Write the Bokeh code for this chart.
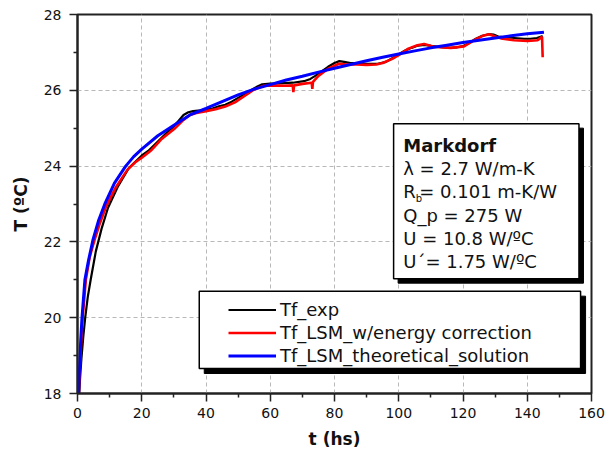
from bokeh.plotting import figure
from bokeh.models import (Range1d, FixedTicker, BoxAnnotation, Label, Legend, LegendItem,
                          ColumnDataSource, CDSView, IndexFilter)
from bokeh.embed import file_html
from bokeh.resources import INLINE

# ---------------- data ----------------
t_exp = [0.5, 0.8, 1.2, 1.8, 2.4, 3.2, 4.1, 5.7, 7.5, 9.5, 12.5, 16, 20, 22, 25, 28, 30, 31.5, 33,
         34.5, 36, 38.3, 40, 42, 44, 46, 48, 50, 52, 54, 56, 57.5, 60, 62, 64.3, 67, 70.5, 72.5, 74,
         76, 78, 80, 81.5, 83, 85, 87, 90, 93.5, 96, 98.5, 100, 102, 104, 106, 108, 110, 113, 116,
         118, 120, 122, 124, 126, 128, 129.5, 131, 133, 136, 139, 141, 143, 144.8]
T_exp = [17.95, 18.4, 18.9, 19.5, 20.0, 20.55, 21.0, 21.75, 22.35, 22.9, 23.45, 23.95, 24.28, 24.4,
         24.65, 24.9, 25.05, 25.2, 25.35, 25.42, 25.45, 25.47, 25.5, 25.52, 25.58, 25.62, 25.7, 25.8,
         25.9, 26.0, 26.1, 26.16, 26.18, 26.18, 26.19, 26.2, 26.24, 26.3, 26.38, 26.5, 26.62, 26.72,
         26.77, 26.75, 26.72, 26.72, 26.7, 26.7, 26.75, 26.87, 26.95, 27.05, 27.12, 27.18, 27.2,
         27.17, 27.14, 27.12, 27.13, 27.17, 27.25, 27.36, 27.44, 27.48, 27.47, 27.42, 27.4, 27.38,
         27.36, 27.36, 27.38, 27.43]

t_lsm = [0.4, 0.7, 1.1, 1.6, 2.6, 3.8, 5.3, 7.0, 9.0, 12, 15.5, 18, 20, 23, 26, 30, 33, 35, 37, 40,
         43, 46, 49, 52, 55, 58, 61, 64.3, 67.0, 67.2, 67.4, 70, 72.9, 73.1, 73.3, 75, 78, 81.4, 84,
         87, 90, 93, 95, 98, 100.6, 103, 105.8, 107.9, 111, 116.2, 120.3, 123.4, 126, 128.1, 130,
         131.8, 135.9, 140.1, 143.2, 144.6, 144.8]
T_lsm = [17.95, 18.6, 19.3, 20.0, 21.0, 21.6, 22.05, 22.5, 22.95, 23.45, 23.9, 24.1, 24.22, 24.42,
         24.7, 24.97, 25.22, 25.35, 25.4, 25.45, 25.5, 25.57, 25.68, 25.85, 26.02, 26.12, 26.13,
         26.12, 26.13, 25.95, 26.13, 26.17, 26.2, 26.04, 26.22, 26.38, 26.57, 26.7, 26.68, 26.68,
         26.67, 26.68, 26.72, 26.83, 26.96, 27.1, 27.19, 27.22, 27.15, 27.12, 27.16, 27.32, 27.43,
         27.48, 27.42, 27.37, 27.32, 27.3, 27.32, 27.41, 26.87]

t_theo = [0.35, 0.6, 1.0, 1.4, 2.3, 3.4, 4.8, 6.5, 8.5, 11.5, 15, 17.5, 20, 25, 30, 35, 40, 45, 50,
          55, 60, 65, 70, 75, 80, 85, 90, 95, 100, 105, 110, 115, 120, 125, 130, 135, 140, 145.2]
T_theo = [18.0, 18.6, 19.4, 20.0, 21.0, 21.5, 22.05, 22.55, 23.0, 23.55, 24.0, 24.25, 24.45, 24.8,
          25.08, 25.35, 25.52, 25.7, 25.88, 26.03, 26.15, 26.27, 26.37, 26.48, 26.58, 26.68, 26.78,
          26.87, 26.96, 27.04, 27.12, 27.19, 27.26, 27.32, 27.38, 27.44, 27.49, 27.53]

series_names = ["Tf_exp", "Tf_LSM_w/energy correction", "Tf_LSM_theoretical_solution"]

x_ticks = [0, 20, 40, 60, 80, 100, 120, 140, 160]
x_minor = [10, 30, 50, 70, 90, 110, 130, 150]
y_ticks = [18, 20, 22, 24, 26, 28]
y_minor = [19, 21, 23, 25, 27]

info_title = "Markdorf"
info_lines = ["λ = 2.7 W/m-K", None, "Q_p = 275 W", "U = 10.8 W/ºC", "U´= 1.75 W/ºC"]
rb_main, rb_sub, rb_rest = "R", "b", "= 0.101 m-K/W"

FONT = "DejaVu Sans"

# ---------------- figure ----------------
p = figure(frame_width=514, frame_height=379, output_backend="svg", toolbar_location=None,
           x_range=Range1d(0, 160), y_range=Range1d(18, 28),
           min_border_left=77, min_border_right=17, min_border_top=14, min_border_bottom=59)
p.background_fill_color = "white"
p.border_fill_color = "white"
p.outline_line_color = "#222222"
p.outline_line_width = 2

p.xaxis.ticker = FixedTicker(ticks=x_ticks, minor_ticks=x_minor)
p.yaxis.ticker = FixedTicker(ticks=y_ticks, minor_ticks=y_minor)
for ax in (p.xaxis, p.yaxis):
    ax.axis_line_color = "#222222"
    ax.axis_line_width = 2
    ax.major_tick_line_color = "#222222"
    ax.minor_tick_line_color = "#222222"
    ax.major_tick_line_width = 1.5
    ax.minor_tick_line_width = 1.5
    ax.major_tick_in = 0
    ax.major_tick_out = 8
    ax.minor_tick_in = 0
    ax.minor_tick_out = 4
    ax.major_label_text_font = FONT
    ax.major_label_text_font_size = "14px"
    ax.major_label_text_color = "#111111"
    ax.axis_label_text_font = FONT
    ax.axis_label_text_font_style = "bold"
    ax.axis_label_text_font_size = "17px"
    ax.axis_label_text_color = "#111111"
p.xaxis.major_label_standoff = 6
p.xaxis.axis_label_standoff = 8
p.yaxis.major_label_standoff = 8
p.yaxis.axis_label_standoff = 10
p.xaxis.axis_label = "t (hs)"
p.yaxis.axis_label = "T (ºC)"

p.grid.grid_line_color = "#b8b8b8"
p.grid.grid_line_dash = "4 3"
p.grid.grid_line_width = 1

# ---------------- curves ----------------
src_exp = ColumnDataSource(dict(t=t_exp, T=T_exp))
src_lsm = ColumnDataSource(dict(t=t_lsm, T=T_lsm))
src_theo = ColumnDataSource(dict(t=t_theo, T=T_theo))

r_exp = p.line("t", "T", source=src_exp, line_color="black", line_width=2.2)
r_lsm = p.line("t", "T", source=src_lsm, line_color="#ff0000", line_width=2.6)
r_theo = p.line("t", "T", source=src_theo, line_color="#0000ff", line_width=3)

# legend-only markers (no points drawn)
none_view = lambda: CDSView(filter=IndexFilter(indices=[]))
m_exp = p.scatter("t", "T", source=src_exp, view=none_view(), marker="square", size=2,
                  color="black")
m_lsm = p.scatter("t", "T", source=src_lsm, view=none_view(), marker="square", size=2,
                  color="#ff0000")
m_theo = p.scatter("t", "T", source=src_theo, view=none_view(), marker="square", size=4,
                   color="#0000ff")

# ---------------- info box ----------------
px_x = 514 / 160.0
px_y = 379 / 10.0

def framed_box(l, r, t, b, off):
    shadow = BoxAnnotation(left=l + off / px_x, right=r + off / px_x, top=t - off / px_y,
                           bottom=b - off / px_y, fill_color="black", fill_alpha=1,
                           line_color="black", line_alpha=1, line_width=1)
    box = BoxAnnotation(left=l, right=r, top=t, bottom=b, fill_color="white", fill_alpha=1,
                        line_color="black", line_alpha=1, line_width=1.5)
    p.add_layout(shadow)
    p.add_layout(box)

framed_box(98.4, 156.1, 25.12, 21.03, 4.5)
framed_box(37.9, 156.6, 20.70, 18.66, 5)

tx = 101.4
ty0 = 24.55
dy = 0.615
p.add_layout(Label(x=tx, y=ty0, text=info_title, text_font=FONT, text_font_style="bold",
                   text_font_size="18px", text_baseline="middle", text_color="#111111"))
for i, line in enumerate(info_lines):
    yy = ty0 - (i + 1) * dy
    if line is None:
        p.add_layout(Label(x=tx, y=yy, text=rb_main, text_font=FONT, text_font_size="18px",
                           text_baseline="middle", text_color="#111111"))
        p.add_layout(Label(x=tx, y=yy, x_offset=12.5, y_offset=-7, text=rb_sub, text_font=FONT,
                           text_font_size="10px", text_baseline="middle", text_color="#111111"))
        p.add_layout(Label(x=tx, y=yy, x_offset=16, text=rb_rest, text_font=FONT,
                           text_font_size="18px", text_baseline="middle", text_color="#111111"))
    else:
        p.add_layout(Label(x=tx, y=yy, text=line, text_font=FONT, text_font_size="18px",
                           text_baseline="middle", text_color="#111111"))

# ---------------- legend ----------------
legend = Legend(items=[LegendItem(label=series_names[0], renderers=[r_exp, m_exp]),
                       LegendItem(label=series_names[1], renderers=[r_lsm, m_lsm]),
                       LegendItem(label=series_names[2], renderers=[r_theo, m_theo])],
                location=(145, 21), orientation="vertical",
                border_line_alpha=0, background_fill_alpha=0,
                label_text_font=FONT, label_text_font_size="18px", label_text_color="#111111",
                glyph_width=48, glyph_height=21, label_height=21, spacing=2,
                label_standoff=4, padding=6, margin=0)
p.add_layout(legend)

open("out.html", "w").write(file_html(p, INLINE))
